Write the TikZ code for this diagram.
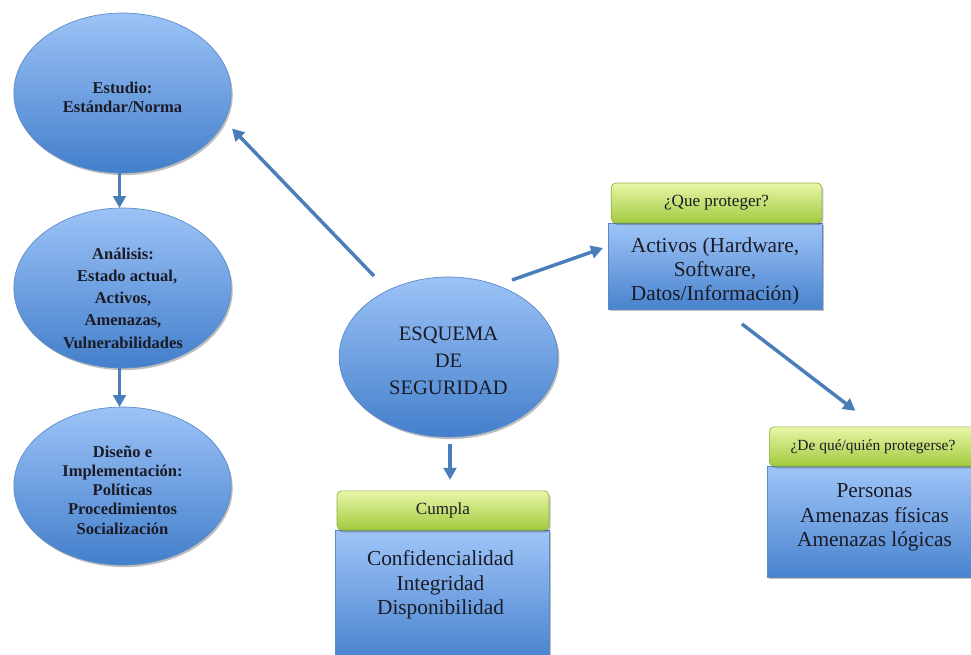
\documentclass[tikz,border=0pt]{standalone}
\usepackage{fontspec}
\setmainfont{Liberation Serif}
\usetikzlibrary{shapes.geometric,arrows.meta,shadows,calc}
\definecolor{elltop}{HTML}{9CC3F7}
\definecolor{ellbot}{HTML}{437FCB}
\definecolor{ellline}{HTML}{5A8AC6}
\definecolor{grntop}{HTML}{E8F6A8}
\definecolor{grnbot}{HTML}{A2CA3E}
\definecolor{grnline}{HTML}{8FB244}
\definecolor{boxtop}{HTML}{9FC5F8}
\definecolor{boxbot}{HTML}{4883CE}
\definecolor{boxline}{HTML}{5A8AC6}
\definecolor{arrcol}{HTML}{4A7EBB}
\definecolor{txtcol}{HTML}{1B1B26}
\begin{document}
\begin{tikzpicture}[x=0.75pt,y=-0.75pt,
  shad/.style={drop shadow={shadow xshift=1.2pt,shadow yshift=-1.6pt,opacity=0.25,fill=black}},
  ellnode/.style={ellipse,draw=ellline,line width=0.5pt,top color=elltop,bottom color=ellbot,
    minimum width=163pt,minimum height=120pt,inner sep=0pt,outer sep=0pt,shad},
  hdrbox/.style={rectangle,rounded corners=3.5pt,draw=grnline,line width=0.5pt,
    top color=grntop,bottom color=grnbot,inner sep=0pt,outer sep=0pt,shad},
  bodybox/.style={rectangle,draw=boxline,line width=0.4pt,top color=boxtop,bottom color=boxbot,
    inner sep=0pt,outer sep=0pt,shad},
  txt/.style={align=center,text=txtcol,inner sep=0pt},
  elltxt/.style={txt,font=\bfseries\fontsize{12.4}{14.4}\selectfont},
  bigtxt/.style={txt,font=\fontsize{16}{18.2}\selectfont},
  hdrtxt/.style={txt,font=\fontsize{12.8}{14}\selectfont},
  arr/.style={draw=arrcol,line width=2.6pt,-{Triangle[length=9pt,width=9.5pt]}}
]
\useasboundingbox[fill=white] (0,0) rectangle (971,654);

% left column ellipses
\node[ellnode] (estudio) at (122.5,93) {};
\node[elltxt] (estudiot) at (122.5,97) {Estudio:\\Estándar/Norma};

\node[ellnode] (analisis) at (122.5,288) {};
\node[elltxt,font=\bfseries\fontsize{12.4}{16.7}\selectfont] (analisist) at (123,298)
  {Análisis:\\\ \ Estado actual,\\Activos,\\Amenazas,\\Vulnerabilidades};

\node[ellnode,minimum height=118.5pt] (diseno) at (122.5,486) {};
\node[elltxt] (disenot) at (122.5,490)
  {Diseño e\\Implementación:\\Políticas\\Procedimientos\\Socialización};

% central ellipse
\node[ellnode,minimum width=164pt] (esq) at (448.5,357) {};
\node[txt,font=\fontsize{15.4}{20.2}\selectfont] (esqt) at (448.5,361) {ESQUEMA\\DE\\SEGURIDAD};

% box: que proteger
\node[bodybox,minimum width=160.5pt,minimum height=64.5pt] (body1) at (715,266) {};
\node[hdrbox,minimum width=158pt,minimum height=30pt] (hdr1) at (716.5,203) {};
\node[hdrtxt] (hdr1t) at (716.5,203) {¿Que proteger?};
\node[bigtxt] (body1t) at (715,271.5) {Activos (Hardware,\\Software,\\Datos/Información)};

% box: de que/quien protegerse
\node[bodybox,minimum width=161pt,minimum height=83pt] (body2) at (874.5,521.5) {};
\node[hdrbox,minimum width=158.5pt,minimum height=29.5pt] (hdr2) at (875,446.5) {};
\node[txt,font=\fontsize{11.6}{13}\selectfont] (hdr2t) at (873,446.5) {¿De qué/quién protegerse?};
\node[bigtxt,font=\fontsize{16}{18.4}\selectfont] (body2t) at (874.5,517.5) {Personas\\Amenazas físicas\\Amenazas lógicas};

% box: cumpla
\node[bodybox,minimum width=160.5pt,minimum height=97.5pt] (body3) at (442,595) {};
\node[hdrbox,minimum width=159pt,minimum height=29.5pt] (hdr3) at (443,510.5) {};
\node[hdrtxt] (hdr3t) at (443,510.5) {Cumpla};
\node[bigtxt] (body3t) at (440.5,585) {Confidencialidad\\Integridad\\Disponibilidad};

% connectors
\draw[arr] ($(estudio.south)+(-3,0)$) -- ($(analisis.north)+(-3,0)$);
\draw[arr] ($(analisis.south)+(-3,0)$) -- ($(diseno.north)+(-3,0)$);
\draw[arr] ($(esq.center)+(-74.5,-81)$) -- ($(estudio.center)+(109.5,35.5)$);
\draw[arr] ($(esq.center)+(63.5,-77)$) -- ($(body1.west)+(-5,-18)$);
\draw[arr] ($(body1.south)+(27,15)$) -- ($(hdr2.north west)+(86,-16)$);
\draw[arr] ($(esq.south)+(1.5,7)$) -- ($(hdr3.north)+(7,-11)$);
\end{tikzpicture}
\end{document}
